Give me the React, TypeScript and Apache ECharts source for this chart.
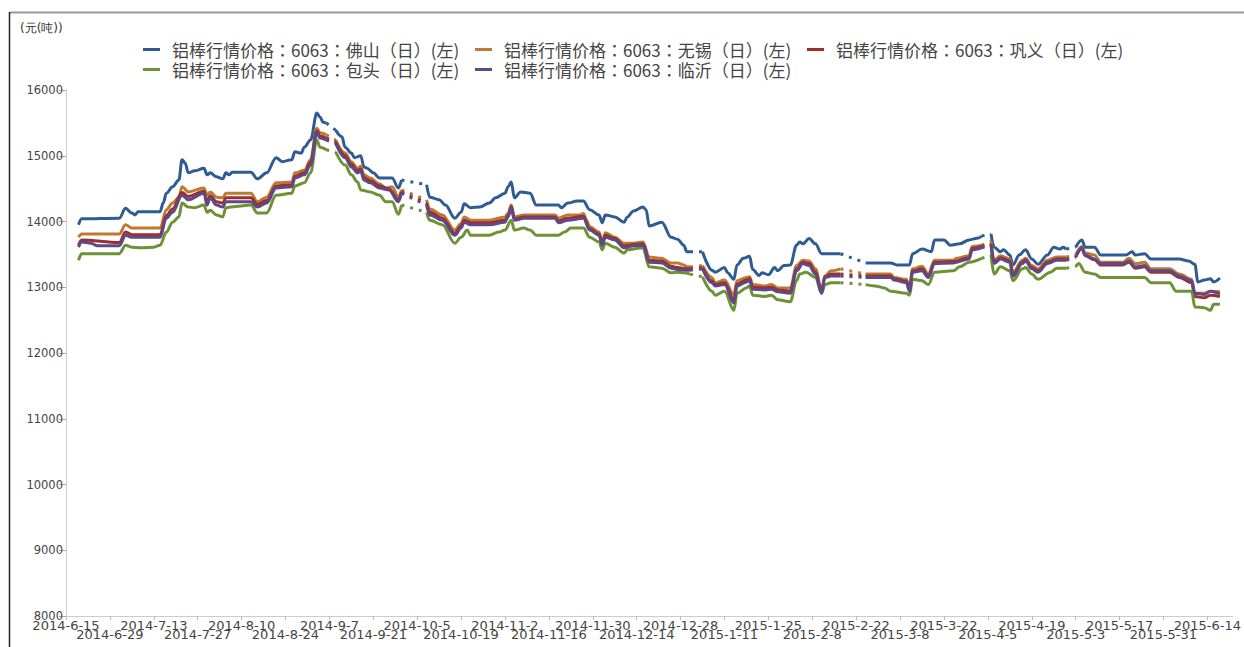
import React, { useEffect, useRef } from "react";
import * as echarts from "echarts";

// x = days since 2014-06-15; segments are separated where the source had gaps (holidays)
const seriesNames = [
  "铝棒行情价格：6063：佛山（日）(左)",
  "铝棒行情价格：6063：无锡（日）(左)",
  "铝棒行情价格：6063：巩义（日）(左)",
  "铝棒行情价格：6063：包头（日）(左)",
  "铝棒行情价格：6063：临沂（日）(左)",
];
const seriesColors = ["#2E5B93", "#BF7A30", "#9B2F2F", "#6E9136", "#5E4888"];

const foshan: number[][][] = [
  [[4,13950],[5,14040],[17,14050],[19,14200],[21,14130],[22,14100],[23,14150],[30,14150],[31,14280],[32,14430],[34,14530],[36,14630],[37,14940],[38,14890],[39,14740],[41,14770],[44,14810],[45,14710],[46,14740],[48,14680],[50,14650],[51,14740],[52,14710],[53,14750],[59,14750],[61,14650],[64,14740],[67,14970],[69,14910],[72,14940],[73,15060],[75,15040],[76,15130],[78,15240],[80,15650],[81,15590],[82,15510],[83,15500]],
  [[86,15390],[88,15290],[89,15130],[91,15040],[92,14970],[94,15000],[95,14830],[96,14810],[98,14740],[100,14660],[104,14660],[106,14510],[107,14630]],
  [[115,14560],[116,14370],[119,14330],[121,14250],[124,14050],[126,14140],[127,14270],[129,14210],[132,14220],[135,14280],[137,14360],[140,14430],[141,14530],[142,14600],[143,14360],[145,14450],[148,14430],[150,14250],[157,14250],[158,14210],[160,14280],[163,14310],[165,14310],[167,14180],[170,14100],[171,13980],[172,14100],[175,14070],[178,13990],[179,14070],[181,14160],[184,14220],[185,14180],[186,13930],[190,13990],[193,13760],[195,13730],[197,13640],[198,13540],[199,13540]],
  [[203,13540],[206,13260],[207,13230],[210,13300],[211,13220],[213,13120],[214,13340],[216,13440],[218,13470],[219,13270],[221,13180],[222,13220],[224,13190],[226,13300],[227,13250],[229,13330],[231,13340],[233,13640],[234,13690],[235,13660],[237,13740],[239,13660],[241,13510],[243,13510],[247,13510]],
  [[255,13370],[263,13370],[265,13340],[269,13340],[270,13510],[273,13580],[276,13540],[277,13720],[280,13720],[282,13640],[285,13660],[288,13720],[291,13750],[292,13780]],
  [[295,13810],[296,13610],[298,13540],[299,13570],[301,13490],[302,13340],[304,13490],[306,13570],[308,13430],[310,13350],[313,13490],[315,13610],[317,13580],[318,13610],[319,13580]],
  [[322,13610],[324,13720],[325,13610],[328,13610],[330,13490],[338,13490],[340,13540],[341,13490],[344,13510],[346,13430],[355,13430],[358,13400],[360,13350],[361,13080],[363,13110],[365,13130],[366,13080],[368,13140]],
];

const wuxi: number[][][] = [
  [[4,13760],[5,13810],[17,13810],[19,13950],[21,13900],[30,13900],[32,14180],[34,14280],[36,14370],[37,14530],[39,14450],[44,14510],[45,14400],[46,14450],[48,14370],[50,14360],[51,14430],[59,14430],[61,14300],[64,14370],[67,14590],[72,14600],[73,14740],[76,14780],[78,14940],[80,15420],[81,15350],[83,15320]],
  [[86,15240],[89,15040],[91,14910],[93,14810],[94,14840],[95,14710],[97,14660],[100,14570],[102,14510],[104,14530],[106,14370],[107,14480]],
  [[115,14330],[116,14190],[120,14100],[124,13870],[126,13970],[127,14070],[129,14020],[135,14020],[140,14070],[141,14130],[142,14250],[143,14070],[146,14100],[156,14100],[157,14050],[160,14100],[164,14100],[165,14120],[166,14020],[167,13920],[170,13840],[171,13690],[172,13830],[175,13760],[178,13670],[181,13670],[184,13690],[186,13460],[190,13440],[193,13370],[195,13370],[197,13340],[198,13310],[199,13310]],
  [[203,13330],[206,13150],[207,13070],[210,13110],[213,12890],[214,13100],[217,13150],[218,13160],[219,13040],[223,13020],[225,13040],[227,12990],[231,12990],[233,13330],[235,13410],[237,13400],[239,13280],[241,12960],[242,13170],[244,13250],[247,13280]],
  [[255,13200],[263,13200],[264,13150],[268,13120],[269,12990],[270,13280],[273,13320],[275,13200],[277,13410],[283,13410],[284,13440],[288,13480],[289,13620],[292,13640]],
  [[295,13700],[296,13410],[298,13480],[301,13430],[302,13230],[305,13410],[306,13440],[308,13330],[310,13280],[313,13410],[316,13460],[319,13460]],
  [[322,13490],[324,13620],[325,13520],[328,13490],[330,13380],[337,13380],[339,13440],[341,13360],[344,13380],[346,13280],[352,13280],[355,13200],[359,13120],[360,12910],[363,12910],[365,12940],[368,12930]],
];

const gongyi: number[][][] = [
  [[4,13640],[5,13720],[17,13680],[19,13840],[21,13800],[30,13800],[32,14090],[34,14190],[37,14440],[39,14380],[44,14460],[45,14300],[46,14390],[48,14300],[50,14280],[51,14360],[59,14360],[61,14260],[64,14320],[67,14540],[72,14560],[73,14690],[76,14740],[78,14900],[80,15380],[81,15300],[83,15270]],
  [[86,15210],[89,15000],[91,14870],[93,14770],[94,14800],[95,14670],[97,14620],[100,14540],[103,14500],[106,14330],[107,14450]],
  [[115,14280],[116,14140],[120,14050],[124,13820],[126,13930],[127,14020],[129,13980],[135,13980],[140,14020],[141,14090],[142,14230],[143,14040],[146,14070],[156,14070],[157,14010],[160,14050],[165,14080],[167,13890],[170,13810],[171,13660],[172,13790],[175,13740],[178,13630],[181,13650],[184,13660],[186,13410],[190,13400],[193,13320],[195,13300],[198,13280],[199,13280]],
  [[203,13300],[206,13100],[207,13040],[210,13070],[213,12810],[214,13050],[217,13110],[218,13130],[219,13000],[223,12990],[225,13000],[227,12960],[231,12940],[233,13280],[235,13380],[237,13360],[239,13230],[241,12930],[242,13160],[244,13200],[247,13200]],
  [[255,13170],[263,13170],[264,13130],[268,13090],[269,12960],[270,13250],[273,13280],[275,13170],[277,13380],[283,13390],[288,13450],[289,13590],[292,13620]],
  [[295,13660],[296,13380],[298,13450],[301,13400],[302,13190],[305,13380],[306,13420],[308,13300],[310,13250],[313,13380],[316,13430],[319,13430]],
  [[322,13460],[324,13590],[325,13480],[328,13420],[330,13340],[337,13340],[339,13380],[341,13290],[344,13310],[346,13230],[352,13230],[355,13150],[359,13070],[360,12860],[363,12840],[365,12880],[368,12860]],
];

const baotou: number[][][] = [
  [[4,13410],[5,13510],[17,13510],[19,13640],[21,13610],[24,13600],[28,13610],[30,13640],[32,13840],[34,13990],[36,14070],[37,14280],[39,14220],[41,14210],[44,14250],[45,14140],[46,14170],[48,14100],[50,14070],[51,14210],[54,14230],[59,14250],[61,14130],[64,14130],[67,14400],[72,14430],[73,14540],[76,14590],[78,14740],[80,15240],[81,15130],[83,15090]],
  [[86,15060],[89,14860],[91,14710],[93,14600],[94,14480],[97,14450],[100,14400],[102,14300],[104,14300],[106,14110],[107,14250]],
  [[115,14140],[116,14020],[120,13950],[124,13670],[126,13760],[128,13870],[129,13790],[135,13790],[138,13840],[140,13870],[142,14020],[143,13870],[146,13900],[148,13870],[150,13790],[157,13790],[159,13840],[161,13900],[165,13900],[167,13760],[170,13690],[171,13570],[172,13670],[175,13610],[178,13520],[179,13570],[184,13600],[186,13310],[190,13290],[193,13220],[195,13230],[197,13220],[199,13200]],
  [[203,13160],[206,12940],[207,12880],[210,12940],[213,12650],[214,12910],[217,12990],[218,13020],[219,12880],[223,12860],[225,12880],[227,12810],[231,12780],[233,13100],[234,13200],[236,13230],[239,13150],[241,12910],[242,13040],[244,13070],[247,13070]],
  [[255,13040],[258,13020],[261,12990],[263,12940],[268,12910],[269,12880],[270,13120],[273,13100],[275,13040],[277,13230],[283,13250],[285,13310],[288,13380],[292,13440]],
  [[295,13490],[296,13200],[298,13310],[301,13250],[302,13100],[305,13280],[306,13300],[308,13200],[310,13120],[314,13230],[316,13290],[319,13290]],
  [[322,13310],[323,13360],[325,13230],[328,13200],[330,13150],[344,13150],[346,13070],[352,13070],[354,12940],[359,12940],[360,12700],[363,12690],[365,12650],[366,12740],[368,12740]],
];

const linyi: number[][][] = [
  [[4,13610],[5,13690],[8,13670],[10,13630],[17,13630],[19,13790],[21,13760],[30,13760],[32,14050],[34,14140],[37,14400],[39,14330],[44,14430],[45,14250],[46,14360],[48,14250],[50,14220],[51,14300],[59,14300],[61,14220],[64,14280],[67,14510],[72,14530],[73,14660],[76,14710],[78,14860],[80,15350],[81,15270],[83,15240]],
  [[86,15190],[89,14970],[91,14830],[93,14740],[94,14770],[95,14630],[97,14590],[100,14510],[103,14480],[106,14300],[107,14430]],
  [[115,14250],[116,14100],[120,14020],[124,13790],[126,13900],[127,13990],[129,13950],[135,13950],[140,13990],[141,14070],[142,14210],[143,14020],[146,14050],[156,14050],[157,13980],[160,14020],[165,14050],[167,13870],[170,13790],[171,13640],[172,13760],[175,13720],[178,13600],[181,13630],[184,13640],[186,13380],[190,13370],[193,13290],[195,13270],[198,13260],[199,13260]],
  [[203,13280],[206,13070],[207,13020],[210,13040],[213,12760],[214,13020],[217,13080],[218,13100],[219,12970],[223,12960],[225,12970],[227,12930],[231,12910],[233,13250],[235,13360],[237,13330],[239,13200],[241,12910],[242,13150],[244,13170],[247,13170]],
  [[255,13150],[263,13150],[264,13110],[268,13070],[269,12940],[270,13230],[273,13250],[275,13150],[277,13360],[283,13370],[288,13430],[289,13570],[292,13600]],
  [[295,13640],[296,13360],[298,13430],[301,13380],[302,13170],[305,13360],[306,13400],[308,13280],[310,13230],[313,13360],[316,13410],[319,13410]],
  [[322,13460],[324,13600],[325,13490],[328,13430],[330,13360],[337,13360],[339,13400],[341,13310],[344,13330],[346,13250],[352,13250],[355,13170],[359,13100],[360,12910],[363,12890],[365,12940],[368,12900]],
];

const allSegments = [foshan, wuxi, gongyi, baotou, linyi];

const yMin = 8000;
const yMax = 16000;
const yStep = 1000;
const xMin = 0;
const xMax = 372;
const xStep = 14; // tick every 14 days
const unitLabel = "(元(吨))";

function dayLabel(v: number): string {
  const d = new Date(2014, 5, 15 + Math.round(v));
  return `${d.getFullYear()}-${d.getMonth() + 1}-${d.getDate()}`;
}

function mainData(segs: number[][][]): any[] {
  const out: any[] = [];
  segs.forEach((s, i) => {
    if (i > 0) {
      const prev = segs[i - 1][segs[i - 1].length - 1];
      out.push([(prev[0] + s[0][0]) / 2, "-"]);
    }
    s.forEach((p) => out.push([p[0], p[1]]));
  });
  return out;
}

function gapData(segs: number[][][]): any[] {
  const out: any[] = [];
  for (let i = 1; i < segs.length; i++) {
    const prev = segs[i - 1][segs[i - 1].length - 1];
    const next = segs[i][0];
    if (out.length) out.push([(prev[0] + out[out.length - 1][0]) / 2, "-"]);
    out.push([prev[0], prev[1]]);
    out.push([next[0], next[1]]);
  }
  return out;
}

export default function App() {
  const ref = useRef<HTMLDivElement>(null);
  useEffect(() => {
    if (!ref.current) return;
    const chart = echarts.init(ref.current, undefined, { renderer: "svg" });
    const font = "DejaVu Sans";
    const cjk = "Noto Sans CJK TC";
    const series: any[] = [];
    allSegments.forEach((segs, i) => {
      series.push({
        name: seriesNames[i],
        type: "line",
        data: mainData(segs),
        showSymbol: false,
        symbol: "none",
        smooth: 0.35,
        smoothMonotone: "x",
        connectNulls: false,
        color: seriesColors[i],
        lineStyle: { width: 3, color: seriesColors[i] },
      });
    });
    allSegments.forEach((segs, i) => {
      series.push({
        name: seriesNames[i],
        type: "line",
        data: gapData(segs),
        showSymbol: false,
        symbol: "none",
        connectNulls: false,
        color: seriesColors[i],
        lineStyle: { width: 3, color: seriesColors[i], type: [3, 6] },
        silent: true,
      });
    });
    const legendPos = [
      [143, 41],
      [475, 41],
      [807, 41],
      [143, 61],
      [475, 61],
    ];
    const legends = seriesNames.map((n, i) => ({
      data: [n],
      left: legendPos[i][0],
      top: legendPos[i][1],
      icon: "rect",
      itemWidth: 17,
      itemHeight: 3,
      itemGap: 0,
      padding: 0,
      selectedMode: false,
      textStyle: {
        fontSize: 17,
        fontFamily: cjk,
        color: "#444",
        lineHeight: 17,
        padding: [0, 0, 0, 7],
      },
    }));
    const labelStyle = {
      fontSize: 13,
      fontFamily: font,
      color: "#444",
      lineHeight: 10,
    };
    chart.setOption({
      animation: false,
      backgroundColor: "#ffffff",
      legend: legends,
      grid: { left: 66, right: 2, top: 90, bottom: 31, containLabel: false },
      xAxis: [
        {
          type: "value",
          min: xMin,
          max: xMax,
          interval: xStep,
          axisLine: { show: true, lineStyle: { color: "#cccccc", width: 1 } },
          axisTick: { show: true, length: 4, lineStyle: { color: "#bbbbbb" } },
          splitLine: { show: false },
          axisLabel: {
            ...labelStyle,
            showMinLabel: true,
            showMaxLabel: false,
            margin: 4,
            formatter: (v: number) =>
              Math.round(v / xStep) % 2 === 0 && v <= 364 ? dayLabel(v) : "",
          },
        },
        {
          type: "value",
          position: "bottom",
          min: xMin,
          max: xMax,
          interval: xStep,
          axisLine: { show: false },
          axisTick: { show: false },
          splitLine: { show: false },
          axisLabel: {
            ...labelStyle,
            showMinLabel: false,
            showMaxLabel: false,
            margin: 13,
            formatter: (v: number) =>
              Math.round(v / xStep) % 2 === 1 && v <= 364 ? dayLabel(v) : "",
          },
        },
      ],
      yAxis: {
        type: "value",
        min: yMin,
        max: yMax,
        interval: yStep,
        axisLine: { show: true, lineStyle: { color: "#cccccc", width: 1 } },
        axisTick: { show: true, length: 7, lineStyle: { color: "#aaaaaa" } },
        splitLine: { show: false },
        axisLabel: {
          fontSize: 11.5,
          fontFamily: font,
          color: "#444",
          margin: 3,
          formatter: (v: number) => String(v),
        },
      },
      graphic: [
        {
          type: "line",
          shape: { x1: 10, y1: 12.5, x2: 1244, y2: 12.5 },
          style: { stroke: "#999999", lineWidth: 2 },
          silent: true,
        },
        {
          type: "line",
          shape: { x1: 9.5, y1: 12, x2: 9.5, y2: 647 },
          style: { stroke: "#222222", lineWidth: 1.5 },
          silent: true,
        },
        {
          type: "text",
          left: 20,
          top: 22,
          style: { text: unitLabel, fontSize: 12, fontFamily: font, fill: "#333" },
          silent: true,
        },
      ],
      series: series.map((s) => ({ ...s, xAxisIndex: 0 })),
    });
    return () => chart.dispose();
  }, []);
  return (
    <div
      ref={ref}
      style={{ position: "fixed", left: 0, top: 0, width: 1244, height: 647, background: "#fff" }}
    />
  );
}
